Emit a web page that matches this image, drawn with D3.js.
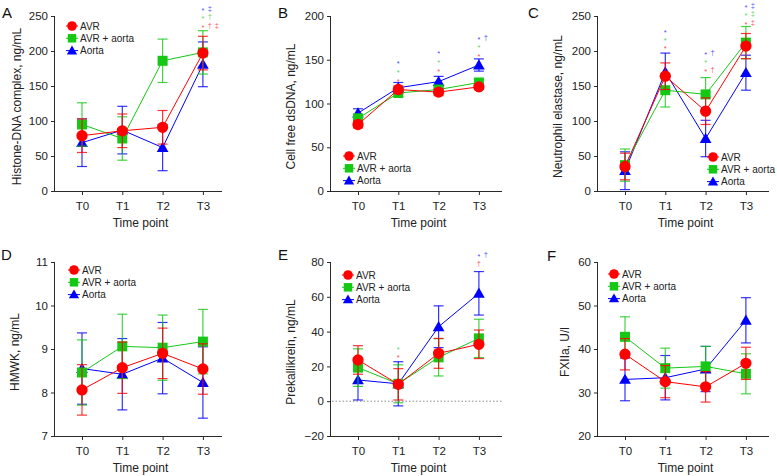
<!DOCTYPE html>
<html><head><meta charset="utf-8">
<script src="https://cdn.jsdelivr.net/npm/d3@7"></script>
<style>
html,body{margin:0;padding:0;background:#fff;}
text{font-family:"Liberation Sans",Arial,sans-serif;}
</style></head>
<body><svg id="chart" width="777" height="476"></svg>
<script>
// ---- shared categories ----
const timePoints = ["T0","T1","T2","T3"];
const groups = ["AVR","AVR + aorta","Aorta"];
const groupColors = ["#ff0000","#14c814","#0000ff"];
const xTitle = "Time point";

// ---- A: Histone-DNA complex ----
const histoneAVR = [79, 86, 91, 197];
const histoneAVRErr = [24, 24, 24, 24];
const histoneMix = [95, 75, 186, 198];
const histoneMixErr = [31, 31, 31, 31];
const histoneAorta = [69, 87, 62, 181];
const histoneAortaErr = [34, 34, 33, 32];
const histoneTicks = [0, 50, 100, 150, 200, 250];
const histoneSig = [
  {t:"T3", g:2, sym:["*","‡"], v:261},
  {t:"T3", g:1, sym:["*","†"], v:250},
  {t:"T3", g:0, sym:["*","†","‡"], v:237}
];

// ---- B: Cell free dsDNA ----
const dsdnaAVR = [76, 116, 113, 119];
const dsdnaAVRErr = [4, 4, 4, 3];
const dsdnaMix = [83, 112, 116, 124];
const dsdnaMixErr = [4, 4, 4, 4];
const dsdnaAorta = [89, 118, 125, 144];
const dsdnaAortaErr = [5, 6, 6, 7];
const dsdnaTicks = [0, 50, 100, 150, 200];
const dsdnaSig = [
  {t:"T1", g:2, sym:["*"], v:147.5}, {t:"T1", g:1, sym:["*"], v:138}, {t:"T1", g:0, sym:["*"], v:128},
  {t:"T2", g:2, sym:["*"], v:159}, {t:"T2", g:1, sym:["*"], v:149}, {t:"T2", g:0, sym:["*"], v:139},
  {t:"T3", g:2, sym:["*","†"], v:175}, {t:"T3", g:1, sym:["*"], v:166}, {t:"T3", g:0, sym:["*"], v:156}
];

// ---- C: Neutrophil elastase ----
const elastaseAVR = [35, 164, 114, 207];
const elastaseAVRErr = [19, 19, 19, 18];
const elastaseMix = [37, 144, 138, 212];
const elastaseMixErr = [23, 24, 24, 23];
const elastaseAorta = [29, 170, 75, 169];
const elastaseAortaErr = [27, 27, 26, 25];
const elastaseTicks = [0, 50, 100, 150, 200, 250];
const elastaseSig = [
  {t:"T1", g:2, sym:["*"], v:230}, {t:"T1", g:1, sym:["*"], v:218}, {t:"T1", g:0, sym:["*"], v:206},
  {t:"T2", g:2, sym:["*","†"], v:198}, {t:"T2", g:1, sym:["*"], v:186}, {t:"T2", g:0, sym:["*","†"], v:174},
  {t:"T3", g:2, sym:["*","‡"], v:265}, {t:"T3", g:1, sym:["*","‡"], v:253}, {t:"T3", g:0, sym:["*","‡"], v:241}
];

// ---- D: HMWK ----
const hmwkAVR = [8.06, 8.57, 8.9, 8.54];
const hmwkAVRErr = [0.58, 0.59, 0.58, 0.58];
const hmwkMix = [8.46, 9.06, 9.03, 9.17];
const hmwkMixErr = [0.75, 0.74, 0.75, 0.74];
const hmwkAorta = [8.55, 8.42, 8.79, 8.23];
const hmwkAortaErr = [0.82, 0.82, 0.82, 0.82];
const hmwkTicks = [7, 8, 9, 10, 11];
const hmwkSig = [];

// ---- E: Prekallikrein ----
const pkAVR = [23.7, 9.7, 27.5, 32.7];
const pkAVRErr = [8.2, 9, 8.6, 8.2];
const pkMix = [19.3, 10, 25.2, 36.1];
const pkMixErr = [10.8, 10.9, 10.7, 11];
const pkAorta = [12.2, 10, 42.8, 62];
const pkAortaErr = [11.5, 12.7, 12, 12.5];
const pkTicks = [-20, 0, 20, 40, 60, 80];
const pkSig = [
  {t:"T1", g:1, sym:["*"], v:30.8}, {t:"T1", g:0, sym:["*"], v:26},
  {t:"T3", g:2, sym:["*","†"], v:84.5}, {t:"T3", g:0, sym:["†"], v:79}
];

// ---- F: FXIIa ----
const fxiiaAVR = [38.8, 32.5, 31.3, 36.7];
const fxiiaAVRErr = [3.6, 3.7, 3.5, 3.7];
const fxiiaMix = [42.8, 35.6, 36.0, 34.3];
const fxiiaMixErr = [4.6, 4.6, 4.6, 4.6];
const fxiiaAorta = [33.0, 33.4, 35.4, 46.6];
const fxiiaAortaErr = [4.9, 5.1, 5.2, 5.2];
const fxiiaTicks = [20, 30, 40, 50, 60];
const fxiiaSig = [];

// ---- panel layout ----
const panels = [
  {letter:"A", title:"Histone-DNA complex, ng/mL", ticks:histoneTicks, means:[histoneAVR,histoneMix,histoneAorta], errs:[histoneAVRErr,histoneMixErr,histoneAortaErr], sig:histoneSig,
   left:55, right:222, top:16, bottom:191, lx:72, ly:26, titleX:21, letX:2, letY:18},
  {letter:"B", title:"Cell free dsDNA, ng/mL", ticks:dsdnaTicks, means:[dsdnaAVR,dsdnaMix,dsdnaAorta], errs:[dsdnaAVRErr,dsdnaMixErr,dsdnaAortaErr], sig:dsdnaSig,
   left:331, right:502, top:16, bottom:191, lx:349, ly:156, titleX:295, letX:278, letY:18},
  {letter:"C", title:"Neutrophil elastase, ng/mL", ticks:elastaseTicks, means:[elastaseAVR,elastaseMix,elastaseAorta], errs:[elastaseAVRErr,elastaseMixErr,elastaseAortaErr], sig:elastaseSig,
   left:598, right:769, top:16, bottom:191, lx:713, ly:157, titleX:562, letX:528, letY:18},
  {letter:"D", title:"HMWK, ng/mL", ticks:hmwkTicks, means:[hmwkAVR,hmwkMix,hmwkAorta], errs:[hmwkAVRErr,hmwkMixErr,hmwkAortaErr], sig:hmwkSig,
   left:55, right:222, top:262, bottom:436, lx:74, ly:270, titleX:19, letX:1, letY:260},
  {letter:"E", title:"Prekallikrein, ng/mL", ticks:pkTicks, means:[pkAVR,pkMix,pkAorta], errs:[pkAVRErr,pkMixErr,pkAortaErr], sig:pkSig,
   left:331, right:502, top:262, bottom:436, lx:348, ly:275, titleX:295, letX:278, letY:260, zeroLine:true},
  {letter:"F", title:"FXIIa, U/l", ticks:fxiiaTicks, means:[fxiiaAVR,fxiiaMix,fxiiaAorta], errs:[fxiiaAVRErr,fxiiaMixErr,fxiiaAortaErr], sig:fxiiaSig,
   left:598, right:769, top:262, bottom:436, lx:614, ly:274, titleX:569, letX:547, letY:261}
];

const svg = d3.select("#chart");
const axisColor = "#2a2a2a";
const shapes = [d3.symbolCircle, d3.symbolSquare, d3.symbolTriangle];
const shapeSize = [100, 100, 60];
const legendSize = [72, 72, 46];
const drawOrder = [2, 1, 0];

panels.forEach(p => {
  const g = svg.append("g");
  const x = d3.scalePoint().domain(timePoints).range([p.left + 27, p.left + 27 + 3 * 40.3]);
  const y = d3.scaleLinear().domain(d3.extent(p.ticks)).range([p.bottom, p.top]);

  // y axis
  const ya = g.append("g").attr("transform", `translate(${p.left},0)`)
    .call(d3.axisLeft(y).tickValues(p.ticks).tickSize(4).tickPadding(3).tickFormat(d => d < 0 ? "\u2212" + Math.abs(d) : d));
  ya.select(".domain").attr("stroke", axisColor).attr("d", `M-0.5,${p.top}V${p.bottom}`);
  ya.selectAll(".tick line").attr("stroke", axisColor);
  ya.selectAll(".tick text").attr("fill", "#222").style("font-size", "11.5px").style("font-family", "Liberation Sans, Arial, sans-serif");

  // x axis
  const xa = g.append("g").attr("transform", `translate(0,${p.bottom})`)
    .call(d3.axisBottom(x).tickSize(4).tickPadding(7));
  xa.select(".domain").attr("stroke", axisColor).attr("d", `M${p.left},0.5H${p.right}`);
  xa.selectAll(".tick line").attr("stroke", axisColor);
  xa.selectAll(".tick text").attr("fill", "#222").style("font-size", "11.5px").style("font-family", "Liberation Sans, Arial, sans-serif");

  // zero reference
  if (p.zeroLine) {
    g.append("line").attr("x1", p.left + 1).attr("x2", p.right).attr("y1", y(0)).attr("y2", y(0))
      .attr("stroke", "#888").attr("stroke-width", 1).attr("stroke-dasharray", "1.5,2");
  }

  // titles
  g.append("text").attr("x", (p.left + p.right) / 2 + 2).attr("y", p.bottom + 36)
    .attr("text-anchor", "middle").style("font-size", "12px").attr("fill", "#222").text(xTitle);
  g.append("text").attr("transform", `translate(${p.titleX},${(p.top + p.bottom) / 2 + 3}) rotate(-90)`)
    .attr("text-anchor", "middle").style("font-size", "12px").attr("fill", "#222").text(p.title);
  g.append("text").attr("x", p.letX).attr("y", p.letY).style("font-size", "15px").attr("fill", "#111").text(p.letter);

  // series
  drawOrder.forEach(k => {
    const col = groupColors[k];
    const pts = timePoints.map((t, i) => ({t, m: p.means[k][i], e: p.errs[k][i]}));
    const sg = g.append("g");
    const eb = sg.selectAll(".eb").data(pts).enter().append("g").attr("stroke", col).attr("stroke-opacity", 0.8).attr("stroke-width", 1.2);
    eb.append("line").attr("x1", d => x(d.t)).attr("x2", d => x(d.t)).attr("y1", d => y(d.m - d.e)).attr("y2", d => y(d.m + d.e));
    eb.append("line").attr("x1", d => x(d.t) - 5).attr("x2", d => x(d.t) + 5).attr("y1", d => y(d.m - d.e)).attr("y2", d => y(d.m - d.e));
    eb.append("line").attr("x1", d => x(d.t) - 5).attr("x2", d => x(d.t) + 5).attr("y1", d => y(d.m + d.e)).attr("y2", d => y(d.m + d.e));
    sg.append("path").datum(pts).attr("fill", "none").attr("stroke", col).attr("stroke-width", 1)
      .attr("d", d3.line().x(d => x(d.t)).y(d => y(d.m)));
    sg.selectAll(".mk").data(pts).enter().append("path")
      .attr("transform", d => `translate(${x(d.t)},${y(d.m) + (k === 2 ? 1 : 0)})`)
      .attr("d", d3.symbol().type(shapes[k]).size(shapeSize[k])).attr("fill", col);
  });

  // significance marks
  p.sig.forEach(s => {
    s.sym.forEach((ch, i) => {
      g.append("text").attr("x", x(s.t) + i * 7).attr("y", y(s.v) + (ch === "*" ? 4.5 : 2.5))
        .attr("text-anchor", "middle").style("font-size", ch === "*" ? "7.5px" : "7.5px")
        .attr("fill", groupColors[s.g]).attr("fill-opacity", 0.75).text(ch);
    });
  });

  // legend
  groups.forEach((name, k) => {
    const ly = p.ly + k * 12.3;
    g.append("line").attr("x1", p.lx - 6).attr("x2", p.lx + 6).attr("y1", ly).attr("y2", ly).attr("stroke", groupColors[k]).attr("stroke-width", 1);
    g.append("path").attr("transform", `translate(${p.lx},${ly + (k === 2 ? 0.8 : 0)})`)
      .attr("d", d3.symbol().type(shapes[k]).size(legendSize[k])).attr("fill", groupColors[k]);
    g.append("text").attr("x", p.lx + 8).attr("y", ly + 3.5).style("font-size", "10px").attr("fill", "#222").text(name);
  });
});
</script>
</body></html>
